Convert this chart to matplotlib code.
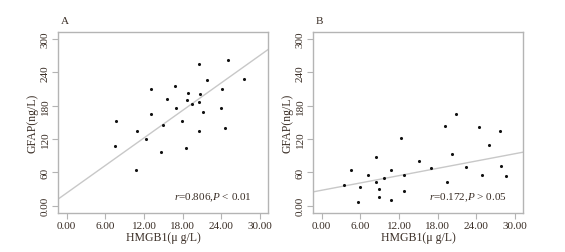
import numpy as np
import matplotlib
matplotlib.use("Agg")
import matplotlib.pyplot as plt

# panel A: HMGB1 vs GFAP
hmgb1_a = [7.6, 7.55, 10.86, 10.75, 12.25, 13.03, 13.08, 14.68, 14.89, 15.61,
           16.8, 16.91, 17.89, 18.56, 18.87, 18.72, 19.39, 20.58, 20.63, 20.58,
           20.58, 21.2, 21.82, 23.94, 24.15, 24.51, 25.03, 27.46]
gfap_a = [151.9, 108, 133.9, 64.3, 120, 210, 164.5, 96, 145.9, 191.5,
          216, 175.9, 153, 104.5, 202, 190.9, 182.5, 255.7, 200.5, 186.7,
          135, 169.3, 226.9, 176.5, 210, 139.9, 262.3, 228]
fit_a = (8.25, 23.1)  # slope, intercept

# panel B
hmgb1_b = [3.46, 4.6, 5.68, 5.94, 7.13, 8.43, 8.48, 8.89, 8.94, 9.67,
           10.8, 10.8, 12.3, 12.72, 12.77, 15.15, 16.96, 19.18, 19.39, 20.22,
           20.89, 22.44, 24.46, 24.93, 25.96, 27.72, 27.82, 28.65]
gfap_b = [37.3, 64.3, 6.7, 34.3, 55.3, 43.3, 87.7, 30.7, 15.7, 49.3,
          64.9, 10.9, 121.3, 55.3, 27.1, 81.1, 67.9, 142.9, 43.3, 93.1,
          165.1, 70.3, 141.1, 55.3, 109.3, 133.9, 72.1, 53.5]
fit_b = (2.19, 28.0)

xticks = [0, 6, 12, 18, 24, 30]
xticklabels = ["0.00", "6.00", "12.00", "18.00", "24.00", "30.00"]
yticks = [0, 60, 120, 180, 240, 300]
yticklabels = ["0.00", "60", "120", "180", "240", "300"]

plt.rcParams['font.family'] = ['Liberation Serif', 'DejaVu Serif']
plt.rcParams['mathtext.fontset'] = 'custom'
plt.rcParams['mathtext.rm'] = 'Liberation Serif'
plt.rcParams['mathtext.it'] = 'Liberation Serif:italic'
text_col = '#3a2e26'
frame_col = '#b4b4b4'

fig = plt.figure(figsize=(5.65, 2.53), dpi=100)
ax_a = fig.add_axes([0.1032, 0.1561, 0.3717, 0.7123])
ax_b = fig.add_axes([0.5545, 0.1561, 0.3717, 0.7123])

panels = [
    (ax_a, hmgb1_a, gfap_a, fit_a, "A", "0.806", "<", "0.01"),
    (ax_b, hmgb1_b, gfap_b, fit_b, "B", "0.172", ">", "0.05"),
]

for ax, x, y, fit, tag, r, op, p in panels:
    xlim = (-1.3, 31.3)
    xs = np.array(xlim)
    ax.plot(xs, fit[0] * xs + fit[1], color='#c8c8c8', lw=1.0, zorder=1)
    ax.scatter(x, y, s=5, color='#111111', zorder=2, linewidths=0)
    ax.set_xlim(*xlim)
    ax.set_ylim(-12, 312)
    ax.set_xticks(xticks)
    ax.set_xticklabels(xticklabels)
    ax.set_yticks(yticks)
    ax.set_yticklabels(yticklabels, rotation=90, va='center')
    ax.tick_params(axis='both', direction='out', length=4, width=0.8,
                   color=frame_col, labelsize=8, labelcolor=text_col, pad=2)
    for sp in ax.spines.values():
        sp.set_color(frame_col)
        sp.set_linewidth(1.0)
    ax.set_xlabel("HMGB1(\u03bc g/L)", fontsize=8.5, color=text_col, labelpad=1)
    ax.set_ylabel("GFAP(ng/L)", fontsize=8.5, color=text_col, labelpad=2)
    ax.text(0.92, 0.05, "$\\it{r}$=" + r + ",$\\it{P}$ " + op + " " + p,
            transform=ax.transAxes, ha='right', va='bottom', fontsize=8,
            color=text_col)
    ax.text(0.01, 1.04, tag, transform=ax.transAxes, ha='left', va='bottom',
            fontsize=8, color=text_col)

fig.savefig("out.png", dpi=100)
